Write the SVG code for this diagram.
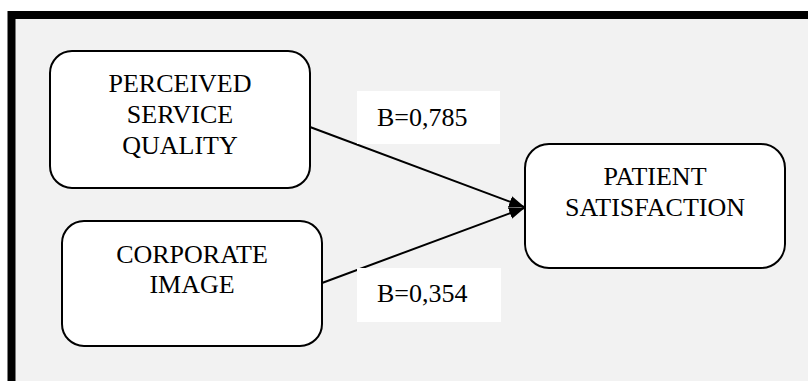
<svg xmlns="http://www.w3.org/2000/svg" width="808" height="381" viewBox="0 0 808 381">
<style>
.node rect{fill:#fff;stroke:#000;stroke-width:2}
text{font-family:"Liberation Serif","Times New Roman",serif;font-size:26px;fill:#000}
.c{text-anchor:middle}
.edge{stroke:#000;stroke-width:2;fill:none;marker-end:url(#ah)}
.lbl rect{fill:#fff;stroke:none}
</style>
<defs>
<marker id="ah" markerUnits="userSpaceOnUse" viewBox="0 0 16 12" markerWidth="16" markerHeight="12" refX="15" refY="6" orient="auto">
<path d="M0,0 L16,6 L0,12 z" fill="#000"/>
</marker>
</defs>
<rect x="0" y="0" width="808" height="381" fill="#fff"/>
<rect id="frame" x="11.5" y="15" width="900" height="500" fill="#f2f2f2" stroke="#000" stroke-width="8"/>
<g id="connectors">
<line class="edge" x1="310" y1="127" x2="524" y2="207"/>
<line class="edge" x1="322" y1="283" x2="524" y2="208"/>
</g>
<g id="label1" class="lbl">
<rect x="357" y="91" width="143" height="53"/>
<text x="377" y="126">B=0,785</text>
</g>
<g id="label2" class="lbl">
<rect x="357" y="268" width="144" height="54"/>
<text x="377" y="302">B=0,354</text>
</g>
<g id="perceived" class="node">
<rect x="50" y="51" width="260" height="137" rx="22"/>
<text class="c" x="180" y="92">PERCEIVED</text>
<text class="c" x="180" y="123">SERVICE</text>
<text class="c" x="180" y="154">QUALITY</text>
</g>
<g id="corporate" class="node">
<rect x="62" y="221" width="260" height="125" rx="22"/>
<text class="c" x="192" y="263">CORPORATE</text>
<text class="c" x="192" y="293">IMAGE</text>
</g>
<g id="patient" class="node">
<rect x="525" y="144" width="260" height="124" rx="24"/>
<text class="c" x="655" y="185">PATIENT</text>
<text class="c" x="655" y="216">SATISFACTION</text>
</g>
</svg>
